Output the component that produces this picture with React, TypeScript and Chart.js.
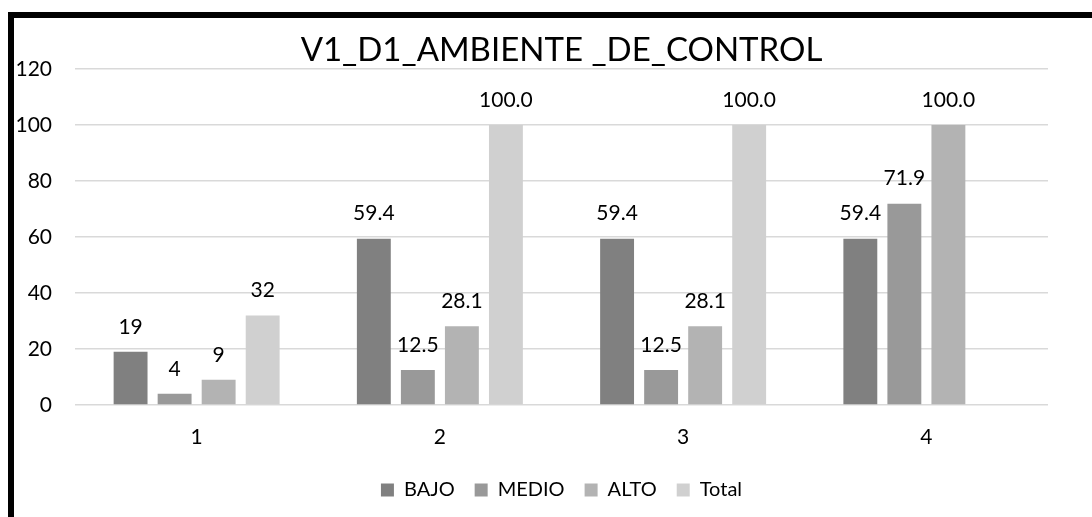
import React, { useEffect, useRef } from "react";
import { Chart, registerables } from "chart.js";

Chart.register(...registerables);

const titleText = "V1_D1_AMBIENTE _DE_CONTROL";
const categories = ["1", "2", "3", "4"];
const seriesNames = ["BAJO", "MEDIO", "ALTO", "Total"];
const bajo = [19, 59.4, 59.4, 59.4];
const medio = [4, 12.5, 12.5, 71.9];
const alto = [9, 28.1, 28.1, 100];
const total: (number | null)[] = [32, 100, 100, null];
const labelDecimals = [0, 1, 1, 1];
const yMax = 120;
const yStep = 20;

const colors = ["#808080", "#999999", "#b3b3b3", "#d0d0d0"];
const FONT = "Lato, 'Open Sans', sans-serif";

const valueLabels = {
  id: "valueLabels",
  afterDatasetsDraw(chart: any) {
    const ctx = chart.ctx;
    ctx.save();
    ctx.font = `21px ${FONT}`;
    ctx.fillStyle = "#000";
    ctx.textAlign = "center";
    ctx.textBaseline = "middle";
    chart.data.datasets.forEach((ds: any, i: number) => {
      const meta = chart.getDatasetMeta(i);
      meta.data.forEach((bar: any, j: number) => {
        const v = ds.data[j];
        if (v == null) return;
        ctx.fillText(Number(v).toFixed(labelDecimals[j]), bar.x, bar.y - 25);
      });
    });
    ctx.restore();
  },
};

export default function App() {
  const ref = useRef<HTMLCanvasElement>(null);

  useEffect(() => {
    if (!ref.current) return;
    const series = [bajo, medio, alto, total];
    const chart = new Chart(ref.current, {
      type: "bar",
      data: {
        labels: categories,
        datasets: series.map((d, i) => ({
          label: seriesNames[i],
          data: d,
          backgroundColor: colors[i],
          borderWidth: 0,
          categoryPercentage: 0.724,
          barPercentage: 0.77,
        })),
      },
      options: {
        responsive: false,
        animation: false,
        layout: { padding: { left: 0, right: 44, top: 0, bottom: 7 } },
        plugins: {
          title: {
            display: true,
            text: titleText,
            color: "#000",
            fullSize: false,
            font: { family: FONT, size: 33, weight: "normal", lineHeight: 1 },
            padding: { top: 16, bottom: 2 },
          },
          legend: {
            position: "bottom",
            fullSize: false,
            labels: {
              color: "#000",
              boxWidth: 13,
              boxHeight: 13,
              padding: 20,
              font: { family: FONT, size: 20 },
            },
          },
          tooltip: { enabled: false },
        },
        scales: {
          x: {
            grid: { display: false, drawTicks: false },
            border: { display: false },
            ticks: { color: "#000", padding: 20, font: { family: FONT, size: 21 } },
            afterFit: (s: any) => {
              s.height = 55;
            },
          },
          y: {
            min: 0,
            max: yMax,
            ticks: {
              stepSize: yStep,
              color: "#000",
              padding: 23,
              font: { family: FONT, size: 21 },
            },
            grid: { color: "#d9d9d9", lineWidth: 1.5, drawTicks: false },
            border: { display: false },
            afterFit: (s: any) => {
              s.width = 61;
            },
          },
        },
      },
      plugins: [valueLabels],
    });
    return () => chart.destroy();
  }, []);

  return (
    <div
      style={{
        position: "absolute",
        left: 8,
        top: 12,
        width: 1084,
        height: 505,
        boxSizing: "border-box",
        borderTop: "6px solid #000",
        borderLeft: "6px solid #000",
        background: "#fff",
      }}
    >
      <canvas ref={ref} width={1078} height={499} style={{ display: "block" }} />
    </div>
  );
}
